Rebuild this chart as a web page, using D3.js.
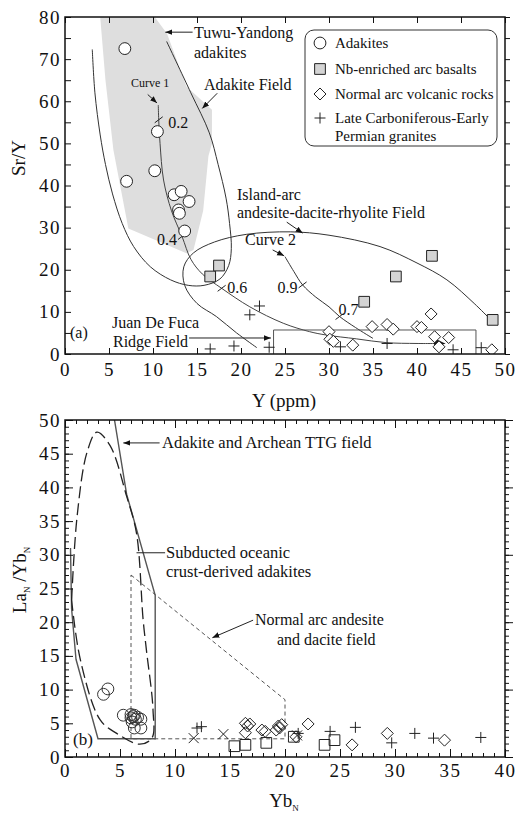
<!DOCTYPE html>
<html>
<head>
<meta charset="utf-8">
<script src="https://cdnjs.cloudflare.com/ajax/libs/d3/7.8.5/d3.min.js"></script>
<style>
  body { margin: 0; background: #fff; }
  svg text { font-family: "Liberation Serif", "Times New Roman", serif; fill: #111; }
</style>
</head>
<body>
<svg id="chart"></svg>
<script>
// ---- panel (a): Sr/Y vs Y ----
const xTicksA = d3.range(0, 51, 5)
const yTicksA = d3.range(0, 81, 5)

const adakitesA = [[6.8,72.5],[10.5,52.8],[10.2,43.5],[7.0,41],[12.4,37.8],[13.2,38.6],
  [14.1,36.2],[12.9,34.2],[13.0,33.4],[13.6,29.2]]
const nbBasaltsA = [[16.5,18.4],[17.5,21],[34.0,12.4],[37.6,18.4],[41.7,23.3],[48.6,8.1]]
const arcRocksA = [[30.0,5.3],[30.1,3.5],[30.5,3.0],[32.7,2.1],[34.9,6.5],[36.6,7.0],[37.3,5.9],
  [40.0,6.5],[40.5,6.3],[41.6,9.5],[42.0,4.1],[42.5,1.7],[43.6,3.9],[48.5,1.0]]
const granitesA = [[22.1,11.4],[21.0,9.3],[16.5,1.2],[19.2,1.9],[23.2,1.6],[31.3,1.7],
  [36.6,2.5],[44.1,1.0],[47.3,1.5]]

// field outlines (data units)
const tuwuField = [[4.0,80],[10.2,80],[11.6,76],[13.8,63.5],[16.7,58],[16.7,50],[16.3,47],
  [15.7,34],[14.6,24.7],[13.8,23.9],[7.2,29.8],[5.5,48.4],[4.6,65]]
const adakiteField = [[3.1,72.3],[3.4,62],[4.0,52],[4.6,45],[5.4,38],[6.5,31],[7.8,25.5],
  [9.7,20.7],[12,17.6],[14,16.3],[15.8,16.3],[17.6,17.8],[18.6,21],[18.9,25],[18.7,31],
  [18.3,37],[17.4,45],[16.4,52.5],[14.3,62],[11.55,74.2]]
const curve1 = [[10.6,59.1],[10.65,55.6],[10.8,50],[11.2,41.3],[12.1,34],[13.3,27.9],
  [14.3,22.5],[15.6,19],[17.8,15.6],[21,11.2],[24.8,7.3],[27.8,5.3],[29.7,4.5],[33.1,3.6],
  [36.5,2.7],[40,2.5],[43.2,2.5]]
const curve2 = [[25,23.1],[26,19.6],[27,16.4],[28.5,13.5],[30,11.2],[31.2,8.9],[33,6.3],[35,3.7]]
const islandArc = [[48.2,8.5],[46.5,12],[43.4,17.6],[40,21.6],[35.8,25.5],[30,28.2],[25.6,29],
  [20.6,28.4],[17,26.6],[14.6,24],[13.5,20.7],[13.6,16.3],[15,12],[17.2,8.9],[19.5,5],[21.8,1.5]]
const juanRidge = [[23.7,0],[23.7,5.7],[46.7,5.7],[46.7,0]]
const curveTicks = [{p:[10.65,55.6], t:"0.2"},{p:[13.3,27.9], t:"0.4"},{p:[17.8,15.6], t:"0.6"},
  {p:[27,16.4], t:"0.9"},{p:[31.2,8.9], t:"0.7"}]

// ---- panel (b): La/Yb vs Yb ----
const xTicksB = d3.range(0, 41, 5)
const yTicksB = d3.range(0, 51, 5)

const adakitesB = [[3.5,9.3],[3.9,10.1],[5.3,6.2],[6.0,5.8],[6.2,6.0],[6.4,5.6],[6.1,5.2],
  [6.6,5.9],[6.9,5.6],[6.3,4.3],[6.9,4.3],[6.0,6.3],[6.3,6.2]]
const crossesB = [[11.7,2.8],[14.4,3.4],[21.1,3.2]]
const granitesB = [[12.0,4.3],[12.4,4.5],[21.2,3.5],[24.1,3.8],[26.4,4.4],[29.7,2.1],
  [31.8,3.5],[33.5,2.8],[37.8,2.9]]
const nbBasaltsB = [[15.4,1.6],[16.4,1.8],[18.3,2.1],[20.8,3.0],[23.6,1.8],[24.5,2.5]]
const arcRocksB = [[16.4,5.0],[16.8,4.9],[16.4,3.6],[17.9,4.0],[18.2,3.8],[19.2,4.0],[19.5,4.3],
  [19.7,4.8],[22.1,4.9],[21.0,3.0],[26.1,1.8],[29.3,3.5],[34.5,2.5],[16.6,4.6],[19.4,4.6]]

const ttgField = [[4.5,50],[5.6,39],[8.2,24],[8.2,2.7],[3.0,2.7],[1.0,14.5],[0.6,22],[0.5,31]]
const subductedField = [[0.6,23.3],[1.1,35.7],[2.0,45.2],[2.9,48.2],[4.1,46.2],[5.6,38.7],
  [6.5,33.2],[7.1,20.4],[7.4,15.9],[8.0,7],[7.9,2.8],[6.8,1.9],[4.7,3.5],[3.2,5.5],[1.4,14.4],[0.6,23.3]]
const normalArcField = [[6.0,27],[20,8.5],[20,2.7],[6.0,2.7],[6.0,27]]

const legendItems = ["Adakites", "Nb-enriched arc basalts", "Normal arc volcanic rocks",
  "Late Carboniferous-Early"]

let svg = d3.select("#chart").attr("width", 515).attr("height", 814)

let xA = d3.scaleLinear().domain([0, 50]).range([65, 505])
let yA = d3.scaleLinear().domain([0, 80]).range([354, 17])
let xB = d3.scaleLinear().domain([0, 40]).range([65, 505])
let yB = d3.scaleLinear().domain([0, 50]).range([757, 420])

let defs = svg.append("defs")
defs.append("marker").attr("id", "arrow")
  .attr("viewBox", "0 0 10 10").attr("refX", 10).attr("refY", 5)
  .attr("markerWidth", 7).attr("markerHeight", 7).attr("markerUnits", "userSpaceOnUse")
  .attr("orient", "auto")
  .append("path").attr("d", "M0,1L10,5L0,9Z").attr("fill", "#111")
defs.append("marker").attr("id", "bigArrow")
  .attr("viewBox", "0 0 10 10").attr("refX", 10).attr("refY", 5)
  .attr("markerWidth", 11).attr("markerHeight", 11).attr("markerUnits", "userSpaceOnUse")
  .attr("orient", "auto")
  .append("path").attr("d", "M0,0L10,5L0,10Z").attr("fill", "#111")
defs.append("clipPath").attr("id", "clipA").append("rect")
  .attr("x", 65).attr("y", 17).attr("width", 440).attr("height", 337)
defs.append("clipPath").attr("id", "clipB").append("rect")
  .attr("x", 65).attr("y", 420).attr("width", 440).attr("height", 337)

// symbol paths
const diamond = s => `M0,${-s}L${s},0L0,${s}L${-s},0Z`
const plus = s => `M${-s},0H${s}M0,${-s}V${s}`
const cross = s => `M${-s},${-s}L${s},${s}M${-s},${s}L${s},${-s}`

function drawMarks(g, data, x, y, kind, fill) {
  let sel = g.append("g").selectAll("path").data(data).enter().append("path")
    .attr("transform", d => `translate(${x(d[0])},${y(d[1])})`)
    .attr("stroke", "#222").attr("stroke-width", 1)
  if (kind == "circle") sel.attr("d", d3.symbol(d3.symbolCircle, 110)).attr("fill", fill)
  if (kind == "square") sel.attr("d", d3.symbol(d3.symbolSquare, 115)).attr("fill", fill)
  if (kind == "diamond") sel.attr("d", diamond(6)).attr("fill", fill)
  if (kind == "plus") sel.attr("d", plus(5.5)).attr("fill", "none")
  if (kind == "cross") sel.attr("d", cross(5)).attr("fill", "none")
  return sel
}

function styleAxis(g, size) {
  g.select(".domain").remove()
  g.attr("font-family", null).attr("font-size", size)
  g.selectAll("line").attr("stroke", "#111")
  g.selectAll("text").style("letter-spacing", "1.5px")
}

function arrow(g, x, y, a, b, marker) {
  g.append("line")
    .attr("x1", x(a[0])).attr("y1", y(a[1])).attr("x2", x(b[0])).attr("y2", y(b[1]))
    .attr("stroke", "#222").attr("stroke-width", 1)
    .attr("marker-end", marker ? `url(#${marker})` : null)
}

function label(g, x, y, txt, size) {
  g.append("text").attr("x", x).attr("y", y).attr("font-size", size || 16).text(txt)
}

// ================= panel (a) =================
let gA = svg.append("g")
let plotA = gA.append("g").attr("clip-path", "url(#clipA)")
let line = d3.line().curve(d3.curveCatmullRom.alpha(0.5))

plotA.append("path")
  .attr("d", d3.line().curve(d3.curveLinearClosed)(tuwuField.map(d => [xA(d[0]), yA(d[1])])))
  .attr("fill", "#dedede").attr("stroke", "none")

plotA.append("path").attr("d", line(adakiteField.map(d => [xA(d[0]), yA(d[1])])))
  .attr("fill", "none").attr("stroke", "#333").attr("stroke-width", 1)
plotA.append("path").attr("d", line(islandArc.map(d => [xA(d[0]), yA(d[1])])))
  .attr("fill", "none").attr("stroke", "#333").attr("stroke-width", 1)
plotA.append("path").attr("d", line(curve1.map(d => [xA(d[0]), yA(d[1])])))
  .attr("fill", "none").attr("stroke", "#444").attr("stroke-width", 1)
  .attr("marker-end", "url(#bigArrow)")
plotA.append("path").attr("d", line(curve2.map(d => [xA(d[0]), yA(d[1])])))
  .attr("fill", "none").attr("stroke", "#333").attr("stroke-width", 1)
plotA.append("path").attr("d", d3.line()(juanRidge.map(d => [xA(d[0]), yA(d[1])])))
  .attr("fill", "none").attr("stroke", "#555").attr("stroke-width", 1)

// small ticks on the mixing curves
plotA.selectAll(".ctick").data(curveTicks).enter().append("line")
  .attr("class", "ctick")
  .attr("x1", d => xA(d.p[0]) - 4).attr("y1", d => yA(d.p[1]) + 3)
  .attr("x2", d => xA(d.p[0]) + 4).attr("y2", d => yA(d.p[1]) - 3)
  .attr("stroke", "#222").attr("stroke-width", 1)

drawMarks(plotA, granitesA, xA, yA, "plus")
drawMarks(plotA, arcRocksA, xA, yA, "diamond", "#fff")
drawMarks(plotA, nbBasaltsA, xA, yA, "square", "#d4d4d4")
drawMarks(plotA, adakitesA, xA, yA, "circle", "#fff")

// axes (a)
gA.append("g").attr("transform", "translate(0,354)")
  .call(d3.axisBottom(xA).tickValues(xTicksA).tickSize(-6).tickSizeOuter(0).tickPadding(9))
  .call(g => styleAxis(g, 19))
gA.append("g").attr("transform", "translate(65,0)")
  .call(d3.axisLeft(yA).tickValues(yTicksA).tickSize(-6).tickSizeOuter(0).tickPadding(4)
    .tickFormat(d => d % 10 ? "" : d))
  .call(g => styleAxis(g, 19))
gA.append("g").attr("transform", "translate(0,17)")
  .call(d3.axisTop(xA).tickValues(xTicksA).tickSize(-6).tickSizeOuter(0).tickFormat(""))
  .call(g => styleAxis(g, 19))
gA.append("g").attr("transform", "translate(505,0)")
  .call(d3.axisRight(yA).tickValues(yTicksA).tickSize(5).tickSizeOuter(0).tickFormat(""))
  .call(g => styleAxis(g, 19))
gA.append("rect").attr("x", 65).attr("y", 17).attr("width", 440).attr("height", 337)
  .attr("fill", "none").attr("stroke", "#111").attr("stroke-width", 1.5)

gA.append("text").attr("transform", "translate(25,158) rotate(-90)")
  .attr("text-anchor", "middle").attr("font-size", 19).text("Sr/Y")
gA.append("text").attr("x", 284).attr("y", 407)
  .attr("text-anchor", "middle").attr("font-size", 19).text("Y (ppm)")

// annotations (a)
label(gA, 194, 38, "Tuwu-Yandong")
label(gA, 194, 58, "adakites")
arrow(gA, xA, yA, [14.5, 76.4], [11.4, 76.4], "arrow")
label(gA, 204, 90, "Adakite Field")
arrow(gA, xA, yA, [17.3, 61.9], [15.6, 58.3], "arrow")
label(gA, 131, 87, "Curve 1", 12)
arrow(gA, xA, yA, [9.4, 61.6], [10.45, 59.6], "arrow")
curveTicks.forEach((d, i) => {
  let off = [[9.5, 8], [-25, 9], [5.5, 5], [-25, 8], [-1, -2]][i]
  label(gA, xA(d.p[0]) + off[0], yA(d.p[1]) + off[1], d.t, 16)
})
label(gA, 237, 200, "Island-arc")
label(gA, 237, 218, "andesite-dacite-rhyolite Field")
arrow(gA, xA, yA, [25.2, 31.3], [27.0, 28.7], "arrow")
label(gA, 245, 245, "Curve 2", 16)
arrow(gA, xA, yA, [23.6, 24.7], [24.9, 23.3], "arrow")
label(gA, 112, 328, "Juan De Fuca")
label(gA, 113, 347, "Ridge Field")
arrow(gA, xA, yA, [14.1, 3.8], [23.4, 3.8], "arrow")
label(gA, 70, 338, "(a)", 16)

// legend
let leg = gA.append("g")
leg.append("rect").attr("x", 305).attr("y", 30).attr("width", 192).attr("height", 116)
  .attr("rx", 9).attr("fill", "#fff").attr("stroke", "#333").attr("stroke-width", 1)
let legY = [43, 69, 94, 118]
let legKinds = [["circle", "#fff"], ["square", "#d4d4d4"], ["diamond", "#fff"], ["plus"]]
legendItems.forEach((t, i) => {
  drawMarks(leg, [[0, 0]], () => 320, () => legY[i], legKinds[i][0], legKinds[i][1])
  label(leg, 335, legY[i] + 5, t, 15)
})
label(leg, 335, 141, "Permian granites", 15)

// ================= panel (b) =================
let gB = svg.append("g")
let plotB = gB.append("g").attr("clip-path", "url(#clipB)")

plotB.append("path").attr("d", d3.line()(normalArcField.map(d => [xB(d[0]), yB(d[1])])))
  .attr("fill", "none").attr("stroke", "#555").attr("stroke-width", 1)
  .attr("stroke-dasharray", "4,3")
plotB.append("path").attr("d", d3.line()(ttgField.map(d => [xB(d[0]), yB(d[1])])))
  .attr("fill", "none").attr("stroke", "#555").attr("stroke-width", 1.4)
plotB.append("path").attr("d", line(subductedField.map(d => [xB(d[0]), yB(d[1])])))
  .attr("fill", "none").attr("stroke", "#222").attr("stroke-width", 1.3)
  .attr("stroke-dasharray", "12,5")

drawMarks(plotB, nbBasaltsB, xB, yB, "square", "none")
drawMarks(plotB, arcRocksB, xB, yB, "diamond", "none")
drawMarks(plotB, granitesB, xB, yB, "plus")
drawMarks(plotB, crossesB, xB, yB, "cross")
drawMarks(plotB, adakitesB, xB, yB, "circle", "none").attr("stroke", "#333")

// axes (b): minor ticks every unit, major ticks labelled
gB.append("g").attr("transform", "translate(0,757)")
  .call(d3.axisBottom(xB).tickValues(d3.range(0, 41)).tickSize(-4).tickSizeOuter(0).tickFormat(""))
  .call(g => styleAxis(g, 19))
gB.append("g").attr("transform", "translate(0,757)")
  .call(d3.axisBottom(xB).tickValues(xTicksB).tickSize(-8).tickSizeOuter(0).tickPadding(7))
  .call(g => styleAxis(g, 19))
gB.append("g").attr("transform", "translate(65,0)")
  .call(d3.axisLeft(yB).tickValues(d3.range(0, 51)).tickSize(-4).tickSizeOuter(0).tickFormat(""))
  .call(g => styleAxis(g, 19))
gB.append("g").attr("transform", "translate(65,0)")
  .call(d3.axisLeft(yB).tickValues(yTicksB).tickSize(-8).tickSizeOuter(0).tickPadding(4))
  .call(g => styleAxis(g, 19))
gB.append("g").attr("transform", "translate(0,420)")
  .call(d3.axisTop(xB).tickValues(d3.range(0, 41)).tickSize(-4).tickSizeOuter(0).tickFormat(""))
  .call(g => styleAxis(g, 19))
gB.append("g").attr("transform", "translate(0,420)")
  .call(d3.axisTop(xB).tickValues(d3.range(0, 41, 10)).tickSize(-8).tickSizeOuter(0).tickFormat(""))
  .call(g => styleAxis(g, 19))
gB.append("g").attr("transform", "translate(505,0)")
  .call(d3.axisRight(yB).tickValues(d3.range(0, 51)).tickSize(4).tickSizeOuter(0).tickFormat(""))
  .call(g => styleAxis(g, 19))
gB.append("g").attr("transform", "translate(505,0)")
  .call(d3.axisRight(yB).tickValues(d3.range(0, 51, 10)).tickSize(8).tickSizeOuter(0).tickFormat(""))
  .call(g => styleAxis(g, 19))
gB.append("rect").attr("x", 65).attr("y", 420).attr("width", 440).attr("height", 337)
  .attr("fill", "none").attr("stroke", "#111").attr("stroke-width", 1.5)

let yl = gB.append("text").attr("transform", "translate(26,580) rotate(-90)")
  .attr("text-anchor", "middle").attr("font-size", 19)
yl.append("tspan").text("La")
yl.append("tspan").attr("font-size", 9).attr("dy", 4).text("N")
yl.append("tspan").attr("dy", -4).text(" /Yb")
yl.append("tspan").attr("font-size", 9).attr("dy", 4).text("N")
let xl = gB.append("text").attr("x", 284).attr("y", 807)
  .attr("text-anchor", "middle").attr("font-size", 19)
xl.append("tspan").text("Yb")
xl.append("tspan").attr("font-size", 9).attr("dy", 4).text("N")

// annotations (b)
label(gB, 162, 448, "Adakite and Archean TTG field", 16.5)
arrow(gB, xB, yB, [8.6, 46.6], [5.3, 46.6], "arrow")
label(gB, 166, 558, "Subducted oceanic", 16.5)
label(gB, 166, 577, "crust-derived adakites", 16.5)
arrow(gB, xB, yB, [9.1, 30.3], [6.5, 30.3])
label(gB, 255, 625, "Normal arc andesite", 16)
label(gB, 277, 645, "and dacite field", 16)
arrow(gB, xB, yB, [17.1, 20.3], [13.4, 17.7], "arrow")
label(gB, 73, 745, "(b)", 17)
</script>
</body>
</html>
